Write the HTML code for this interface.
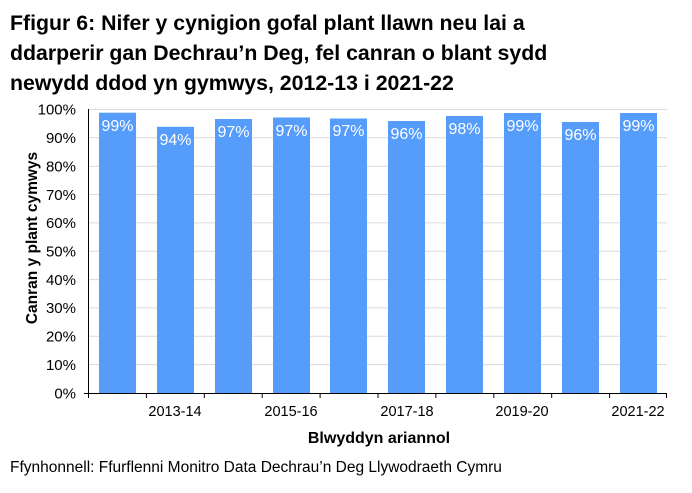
<!DOCTYPE html>
<html><head><meta charset="utf-8"><style>
body{margin:0;background:#fff;width:692px;height:488px;overflow:hidden;font-family:"Liberation Sans",Arial,sans-serif}
</style></head><body>
<svg width="692" height="488" xmlns="http://www.w3.org/2000/svg" font-family="Liberation Sans, Arial, sans-serif">
<text x="10" y="30" font-size="21.3" font-weight="bold" fill="#000">Ffigur 6: Nifer y cynigion gofal plant llawn neu lai a</text>
<text x="10" y="60" font-size="21.3" font-weight="bold" fill="#000">ddarperir gan Dechrau’n Deg, fel canran o blant sydd</text>
<text x="10" y="90" font-size="21.3" font-weight="bold" fill="#000">newydd ddod yn gymwys, 2012-13 i 2021-22</text>
<g stroke="#dcdcdc" stroke-width="1">
<line x1="88" x2="667" y1="109.5" y2="109.5"/><line x1="88" x2="667" y1="137.8" y2="137.8"/><line x1="88" x2="667" y1="166.2" y2="166.2"/><line x1="88" x2="667" y1="194.5" y2="194.5"/><line x1="88" x2="667" y1="222.9" y2="222.9"/><line x1="88" x2="667" y1="251.2" y2="251.2"/><line x1="88" x2="667" y1="279.6" y2="279.6"/><line x1="88" x2="667" y1="307.9" y2="307.9"/><line x1="88" x2="667" y1="336.3" y2="336.3"/><line x1="88" x2="667" y1="364.6" y2="364.6"/>
</g>
<g font-size="15" fill="#000" text-anchor="end">
<text x="76" y="114.5">100%</text><text x="76" y="143">90%</text><text x="76" y="171.5">80%</text><text x="76" y="200">70%</text><text x="76" y="228">60%</text><text x="76" y="256.5">50%</text><text x="76" y="285">40%</text><text x="76" y="313">30%</text><text x="76" y="341.5">20%</text><text x="76" y="370">10%</text><text x="76" y="398.5">0%</text>
</g>
<g fill="#559cfb">
<rect x="99" y="112.7" width="37" height="280.3"/>
<rect x="157" y="126.8" width="37" height="266.2"/>
<rect x="215" y="119" width="37" height="274"/>
<rect x="273" y="117.5" width="37" height="275.5"/>
<rect x="330" y="118.5" width="37" height="274.5"/>
<rect x="388" y="121" width="37" height="272"/>
<rect x="446" y="116" width="37" height="277"/>
<rect x="504" y="113" width="37" height="280"/>
<rect x="562" y="122" width="37" height="271"/>
<rect x="620" y="113" width="37" height="280"/>
</g>
<g font-size="16" fill="#fff" text-anchor="middle">
<text x="117.5" y="131">99%</text><text x="175.5" y="145">94%</text><text x="233.5" y="137">97%</text><text x="291.5" y="136">97%</text><text x="348.5" y="136">97%</text><text x="406.5" y="139">96%</text><text x="464.5" y="134">98%</text><text x="522.5" y="131">99%</text><text x="580.5" y="140">96%</text><text x="638.5" y="131">99%</text>
</g>
<g stroke="#000" stroke-width="1">
<line x1="88.5" y1="109" x2="88.5" y2="393"/>
<line x1="84" y1="393.5" x2="667" y2="393.5"/>
<line x1="88.5" y1="393" x2="88.5" y2="398"/><line x1="146.4" y1="393" x2="146.4" y2="398"/><line x1="204.3" y1="393" x2="204.3" y2="398"/><line x1="262.2" y1="393" x2="262.2" y2="398"/><line x1="320.1" y1="393" x2="320.1" y2="398"/><line x1="378" y1="393" x2="378" y2="398"/><line x1="435.9" y1="393" x2="435.9" y2="398"/><line x1="493.8" y1="393" x2="493.8" y2="398"/><line x1="551.7" y1="393" x2="551.7" y2="398"/><line x1="609.6" y1="393" x2="609.6" y2="398"/><line x1="666.5" y1="393" x2="666.5" y2="398"/>
</g>
<g font-size="14.5" fill="#000" text-anchor="middle">
<text x="175" y="416">2013-14</text><text x="291" y="416">2015-16</text><text x="407" y="416">2017-18</text><text x="522" y="416">2019-20</text><text x="638" y="416">2021-22</text>
</g>
<text x="379" y="443" font-size="16" font-weight="bold" text-anchor="middle">Blwyddyn ariannol</text>
<text transform="translate(37,238) rotate(-90)" font-size="15.5" font-weight="bold" text-anchor="middle">Canran y plant cymwys</text>
<text x="10" y="472" font-size="15.5">Ffynhonnell: Ffurflenni Monitro Data Dechrau’n Deg Llywodraeth Cymru</text>
</svg>
</body></html>
